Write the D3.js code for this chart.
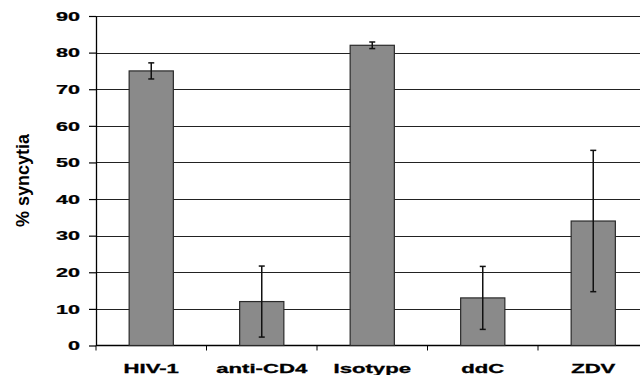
<!DOCTYPE html>
<html><head><meta charset="utf-8">
<script src="https://cdn.jsdelivr.net/npm/d3@7"></script>
<style>
html,body{margin:0;padding:0;background:#fff;}
svg{display:block;font-family:"Liberation Sans",Arial,sans-serif;}
</style></head>
<body>
<svg id="chart" width="640" height="375"></svg>
<script>
const categories = ["HIV-1", "anti-CD4", "Isotype", "ddC", "ZDV"];
const values = [75, 12, 82, 13, 34];
const errors = [2.2, 9.7, 0.9, 8.6, 19.3];
const yTicks = [0, 10, 20, 30, 40, 50, 60, 70, 80, 90];
const yTitle = "% syncytia";

(function () {
const svg = d3.select("#chart");
const mLeft = 96, mRight = 648.5, mTop = 16, mBottom = 345.5;
const sx = 1.8;

const x = d3.scaleBand().domain(categories).range([mLeft, mRight]).paddingInner(0.6).paddingOuter(0.3);
const y = d3.scaleLinear().domain([0, 90]).range([mBottom, mTop]);

// gridlines
svg.append("g").selectAll("line").data(yTicks.filter(d => d > 0)).join("line")
  .attr("x1", mLeft).attr("x2", 640)
  .attr("y1", d => Math.round(y(d)) + 0.5).attr("y2", d => Math.round(y(d)) + 0.5)
  .attr("stroke", "#222").attr("stroke-width", 1.1);

// y axis
const yAxis = svg.append("g").attr("transform", `translate(${mLeft},0)`)
  .call(d3.axisLeft(y).tickValues(yTicks).tickSize(7).tickSizeOuter(0));
yAxis.select(".domain").attr("stroke", "#000").attr("stroke-width", 1.3);
yAxis.selectAll(".tick line").attr("stroke", "#000").attr("stroke-width", 1.2);
yAxis.selectAll(".tick text")
  .attr("x", 0).attr("dy", "0.36em")
  .attr("transform", `translate(-16,0) scale(${sx},1)`)
  .attr("font-size", 12).attr("font-weight", "bold")
  .attr("font-family", "Liberation Sans, Arial, sans-serif")
  .attr("fill", "#000").attr("stroke", "#000").attr("stroke-width", 0.25);

// x axis
const boundaries = categories.map(c => x(c) - x.step() * x.paddingInner() / 2);
const xg = svg.append("g");
xg.append("line").attr("x1", mLeft).attr("x2", 640).attr("y1", mBottom).attr("y2", mBottom)
  .attr("stroke", "#000").attr("stroke-width", 1.5);
xg.selectAll("line.tk").data(boundaries).join("line").attr("class", "tk")
  .attr("x1", d => d).attr("x2", d => d).attr("y1", mBottom).attr("y2", mBottom + 5)
  .attr("stroke", "#000").attr("stroke-width", 1);
xg.selectAll("text").data(categories).join("text")
  .attr("transform", d => `translate(${x(d) + x.bandwidth() / 2},372.5) scale(${sx},1)`)
  .attr("text-anchor", "middle")
  .attr("font-size", 12.3).attr("font-weight", "bold").attr("fill", "#000")
  .attr("stroke", "#000").attr("stroke-width", 0.3)
  .text(d => d);

// bars
svg.append("g").selectAll("rect").data(categories).join("rect")
  .attr("x", d => x(d)).attr("width", x.bandwidth())
  .attr("y", (d, i) => y(values[i])).attr("height", (d, i) => mBottom - y(values[i]))
  .attr("fill", "#8a8a8a").attr("stroke", "#2a2a2a").attr("stroke-width", 1.2);

// error bars
const eg = svg.append("g").attr("stroke", "#111").attr("stroke-width", 1.5);
categories.forEach((c, i) => {
  const cx = x(c) + x.bandwidth() / 2;
  const y1 = y(values[i] + errors[i]), y2 = y(values[i] - errors[i]);
  eg.append("line").attr("x1", cx).attr("x2", cx).attr("y1", y1).attr("y2", y2);
  eg.append("line").attr("x1", cx - 3).attr("x2", cx + 3).attr("y1", y1).attr("y2", y1);
  eg.append("line").attr("x1", cx - 3).attr("x2", cx + 3).attr("y1", y2).attr("y2", y2);
});

// y title
svg.append("text")
  .attr("transform", `translate(29,${(132 + 229) / 2}) rotate(-90)`)
  .attr("text-anchor", "middle")
  .attr("font-size", 18).attr("font-weight", "bold").attr("fill", "#000")
  .text(yTitle);
})();
</script>
</body></html>
